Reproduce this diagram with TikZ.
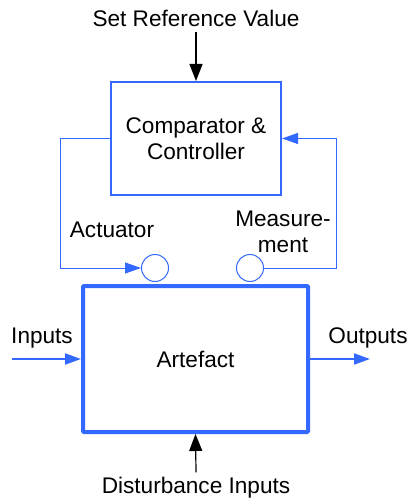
\documentclass[tikz,border=0pt]{standalone}
\usepackage{fontspec}
\setmainfont{Liberation Sans}
\usetikzlibrary{arrows.meta}
\definecolor{myblue}{RGB}{51,105,255}
\begin{document}
\begin{tikzpicture}[x=1pt,y=-1pt,
  every node/.style={font=\fontsize{22.6}{26}\selectfont, inner sep=0pt},
  lbl/.style={align=center},
  thinblue/.style={draw=myblue, line width=1pt},
  bluearrow/.style={thinblue, -{Triangle[length=16pt,width=11pt]}},
  blackarrow/.style={draw=black, line width=1.2pt, -{Triangle[length=17pt,width=13pt]}},
  port/.style={circle, draw=myblue, line width=1pt, minimum size=27pt}]
\useasboundingbox (0,0) rectangle (407,502);
\node[draw=myblue, line width=2pt, minimum width=170pt, minimum height=113pt, lbl] (comp) at (196,138.5) {Comparator \&\\Controller};
\node[draw=myblue, line width=4pt, rounded corners=1pt, minimum width=225pt, minimum height=146pt] (art) at (195.5,359) {Artefact};
\node[port] (act) at (155,268) {};
\node[port] (meas) at (250,268) {};
\node (ref) at (196,18) {Set Reference Value};
\node (dist) at (196,488) {Disturbance Inputs};
\node (actlbl) at (112,230) {Actuator};
\node[lbl] (measlbl) at (283,232) {Measure-\\ment};
\node (inlbl) at (42,338) {Inputs};
\node (outlbl) at (368,338) {Outputs};
\coordinate (in) at (12,359);
\coordinate (out) at (370,359);
\draw[blackarrow] (ref.south) ++(0,6) -- (comp.north);
\draw[blackarrow] (dist.north) ++(0,-5) -- (art.south);
\draw[thinblue, -{Triangle[length=16pt,width=11pt]}] (comp.west) -- ++(-50,0) |- (act.west);
\draw[thinblue, -{Triangle[length=16pt,width=11pt]}] (meas.east) -- ++(72.5,0) |- (comp.east);
\draw[bluearrow, line width=2pt] (in) -- (art.west);
\draw[bluearrow, line width=2pt] (art.east) -- (out);
\end{tikzpicture}
\end{document}
